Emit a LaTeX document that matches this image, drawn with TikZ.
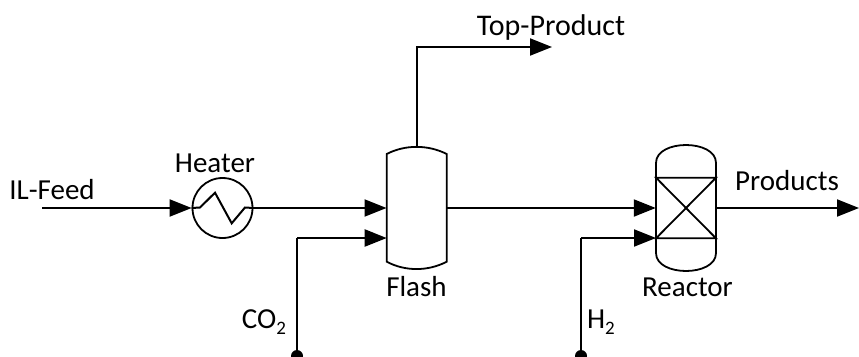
\documentclass[tikz,border=0pt]{standalone}
\usepackage{fontspec}
\setmainfont{Carlito}
\usetikzlibrary{arrows.meta}
\newcommand{\lowtwo}{\raisebox{-0.22em}{\fontsize{19}{20}\selectfont 2}}
\tikzset{
  x=1pt,y=-1pt,
  lbl/.style={inner sep=0pt,font=\fontsize{29}{34}\selectfont},
  toplbl/.style={inner sep=0pt,font=\fontsize{30}{34}\selectfont},
  vessel/.style={rectangle,minimum width=60pt,minimum height=123pt,inner sep=0pt},
  pipe/.style={line width=2pt,-{Triangle[length=22pt,width=17pt]}},
  plain/.style={line width=2pt},
  wall/.style={line width=1.8pt},
  source/.style={circle,fill=black,minimum size=12pt,inner sep=0pt},
}
\begin{document}
\begin{tikzpicture}
\useasboundingbox (0,0) rectangle (859,356);
\begin{scope}
\clip (0,0) rectangle (859,356);
% equipment
\node[circle,draw,wall,minimum size=60pt,inner sep=0pt] (heater) at (222.5,208) {};
\node[vessel] (flash) at (416.7,208) {};
\node[vessel] (reactor) at (686,208) {};
\coordinate (feed) at (42,208);
\coordinate (flashin) at (386.7,238);
\coordinate (reactin) at (656,238);
\coordinate (topend) at (552,47);
\coordinate (prodend) at (859,208);
\coordinate (co2bend) at (297,238);
\coordinate (h2bend) at (581,238);
\node[source] (co2) at (297,356) {};
\node[source] (h2) at (581,356) {};
% flash outline
\draw[wall] (386.7,154) .. controls (405,144.5) and (428,144.5) .. (446.7,154)
  -- (446.7,261.7) .. controls (428,271.5) and (405,271.5) .. (386.7,261.7) -- cycle;
% reactor outline
\draw[wall] (656,163) .. controls (656,139) and (716,139) .. (716,163)
  -- (716,253) .. controls (716,277) and (656,277) .. (656,253) -- cycle;
\draw[wall] (656,177.7) -- (716,177.7) -- (656,238.3) -- (716,238.3) -- cycle;
% heater coil
\draw[line width=2pt] (heater.west) -- (200,207.5) -- (215,192.7) -- (231.7,223.3) -- (245,207.5) -- (heater.east);
% connectors
\draw[pipe] (feed) -- (heater.west);
\draw[pipe] (heater.east) -- (flash.west);
\draw[plain] (co2) -- (co2bend);
\draw[pipe] (co2bend) -- (flashin);
\draw[pipe] (flash.east) -- (reactor.west);
\draw[plain] (h2) -- (h2bend);
\draw[pipe] (h2bend) -- (reactin);
\draw[pipe] (reactor.east) -- (prodend);
\draw[pipe] (flash.north) |- (topend);
\end{scope}
% labels
\node[lbl] (l1) at (52,190) {IL-Feed};
\node[lbl] (l2) at (215,163) {Heater};
\node[toplbl] (l3) at (551,27.5) {Top-Product};
\node[lbl] (l4) at (787,181) {Products};
\node[lbl] (l5) at (416.5,287) {Flash};
\node[lbl] (l6) at (687.5,287) {Reactor};
\node[lbl] (l7) at (264,322) {CO\lowtwo};
\node[lbl] (l8) at (601,322) {H\lowtwo};
\end{tikzpicture}
\end{document}
